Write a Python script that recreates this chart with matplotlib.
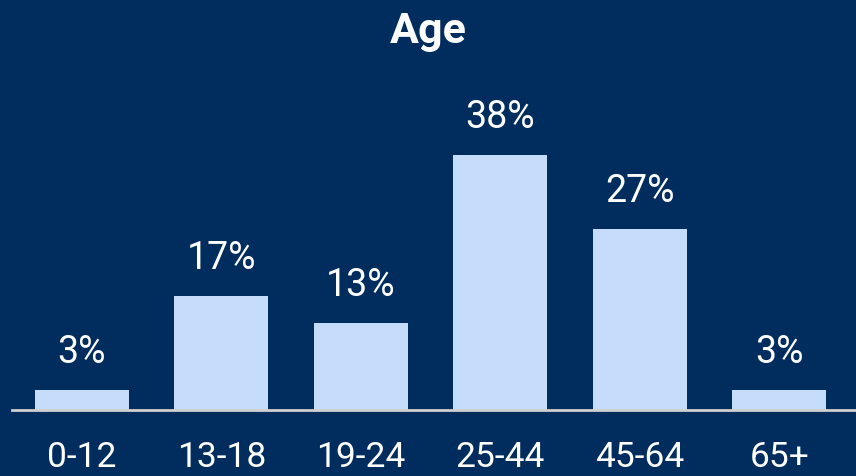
import matplotlib.pyplot as plt

# Datos
age_groups = ['0-12', '13-18', '19-24', '25-44', '45-64', '65+']
shares = [3, 17, 13, 38, 27, 3]

bg = '#002d5e'
bar_color = '#c5ddfb'

plt.rcParams['font.family'] = ['Roboto', 'DejaVu Sans']

fig = plt.figure(figsize=(8.56, 4.76), dpi=100, facecolor=bg)
ax = fig.add_axes([12 / 856, 66 / 476, 844 / 856, 301.5 / 476])
ax.set_facecolor(bg)

x = range(len(age_groups))
bars = ax.bar(x, shares, width=0.675, color=bar_color)

for rect, v in zip(bars, shares):
    ax.annotate(f'{v}%', (rect.get_x() + rect.get_width() / 2, rect.get_height()),
                xytext=(0, 19.5), textcoords='offset points',
                ha='center', va='baseline', color='white', fontsize=27)

ax.set_xlim(-0.5, 5.55)
ax.set_ylim(0, 45)
ax.set_xticks(list(x))
ax.set_xticklabels(age_groups, fontsize=25.5, color='white')
ax.tick_params(axis='x', length=0, pad=22.5)
ax.set_yticks([])
for side in ['top', 'right', 'left']:
    ax.spines[side].set_visible(False)
ax.spines['bottom'].set_color('#d0d0d0')
ax.spines['bottom'].set_linewidth(2)

fig.text(0.5, 1 - 43 / 476, 'Age', ha='center', va='baseline',
         color='white', fontsize=31, fontweight='bold')

fig.savefig('out.png', dpi=100, facecolor=bg)
